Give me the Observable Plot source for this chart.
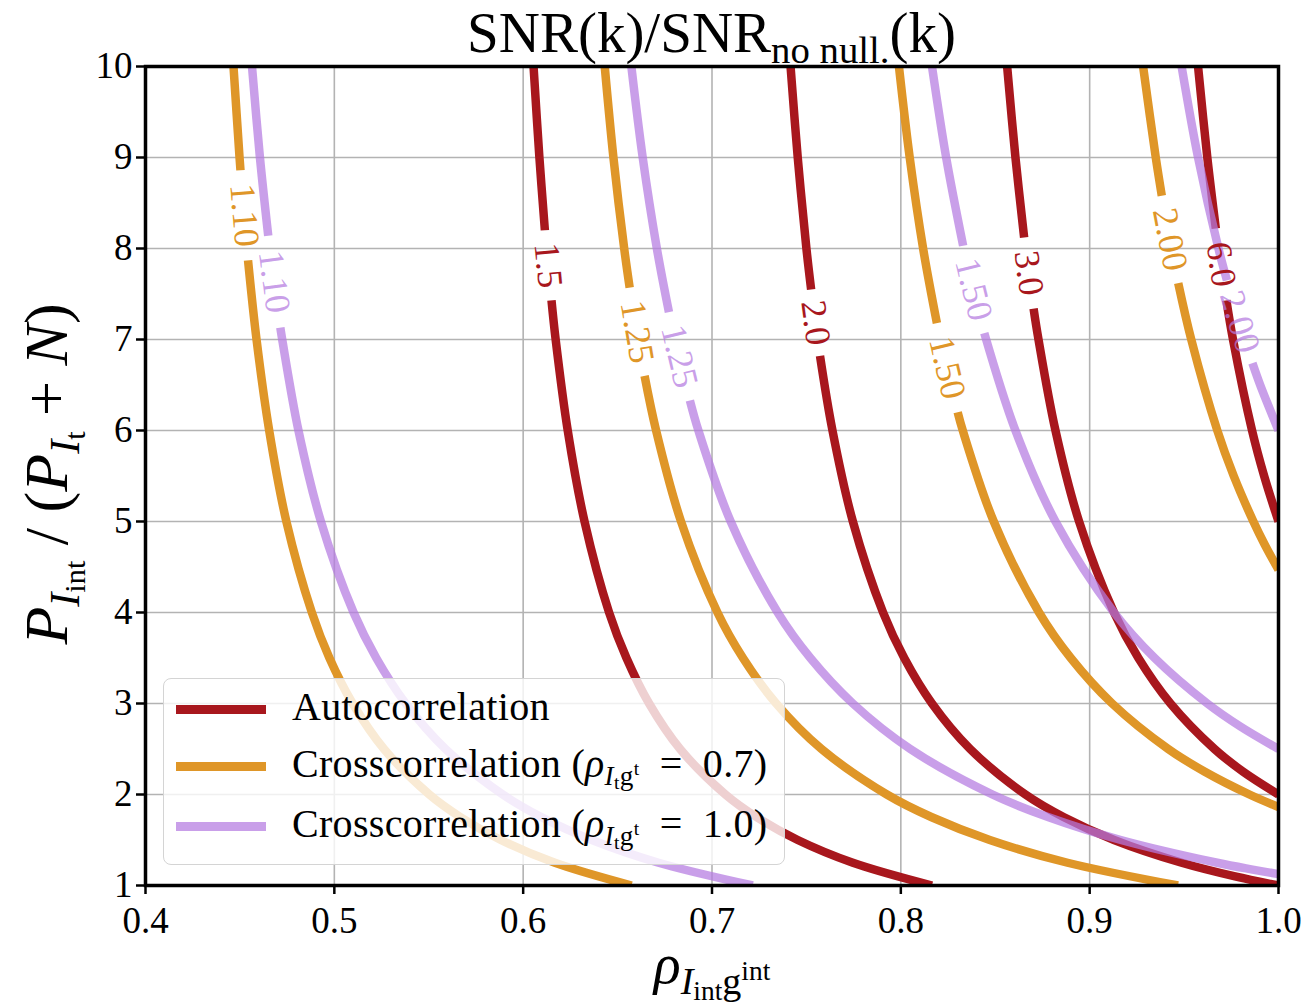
<!DOCTYPE html>
<html><head><meta charset="utf-8">
<script src="https://cdn.jsdelivr.net/npm/d3@7"></script>
<script src="https://cdn.jsdelivr.net/npm/@observablehq/plot@0.6"></script>
<style>
body{margin:0;background:#fff;}
#wrap{position:relative;width:1306px;height:1004px;font-family:"Liberation Serif",serif;color:#000;}
#wrap svg text{font-family:"Liberation Serif",serif;}
.ov{position:absolute;white-space:nowrap;line-height:1;}
.sub{font-size:0.68em;position:relative;top:0.28em;}
.sub2{font-size:0.72em;position:relative;top:0.22em;}
.sup{font-size:0.72em;position:relative;top:-0.5em;}
#legend{position:absolute;left:163px;top:678px;width:622px;height:187px;border:1.5px solid #d4d4d4;border-radius:8px;background:rgba(255,255,255,0.8);box-sizing:border-box;}
.row{position:absolute;left:0;width:100%;height:50px;}
.sw{position:absolute;left:12px;width:90px;height:9px;top:22px;}
.lt{position:absolute;left:128px;top:2px;font-size:40px;white-space:nowrap;line-height:1.1;letter-spacing:0.3px;}
.sp{display:inline-block;width:0.25em;}
</style></head><body><div id="wrap"></div>
<script>
// axis ticks
const xTicks = [0.4, 0.5, 0.6, 0.7, 0.8, 0.9, 1.0];
const yTicks = [1, 2, 3, 4, 5, 6, 7, 8, 9, 10];

// Autocorrelation contours: [rho, P_int/(P_t+N)]
const auto15 = [[0.6055,10],[0.6086,9],[0.6115,8.2],[0.6150,7.43],[0.6172,7],[0.6236,6],[0.6325,5],[0.6455,4],[0.6547,3.5],[0.6667,3],[0.6831,2.5],[0.7071,2],[0.7237,1.75],[0.7454,1.5],[0.7746,1.25],[0.8165,1]];
const auto20 = [[0.7416,10],[0.7454,9],[0.7500,8],[0.7525,7.55],[0.7572,6.82],[0.7638,6],[0.7746,5],[0.7906,4],[0.8018,3.5],[0.8165,3],[0.8367,2.5],[0.8660,2],[0.8864,1.75],[0.9129,1.5],[0.9487,1.25],[0.9770,1.1],[1.0,1]];
const auto30 = [[0.8563,10],[0.8607,9],[0.8653,8.12],[0.8703,7.34],[0.8729,7],[0.8819,6],[0.8944,5],[0.9129,4],[0.9258,3.5],[0.9428,3],[0.9661,2.5],[0.9813,2.25],[1.0,2]];
const auto60 = [[0.9574,10],[0.9623,9],[0.9668,8.22],[0.9724,7.43],[0.9759,7],[0.9860,6],[0.9924,5.5],[1.0,5]];

// Crosscorrelation, rho_tg = 0.7
const c07_110 = [[0.4466,10],[0.4498,9],[0.4503,8.86],[0.4543,7.87],[0.4588,7],[0.4655,6],[0.4746,5],[0.4881,4],[0.4974,3.5],[0.5097,3],[0.5263,2.5],[0.5503,2],[0.5669,1.75],[0.5882,1.5],[0.6168,1.25],[0.6574,1]];
const c07_125 = [[0.6432,10],[0.6478,9],[0.6535,8],[0.6564,7.57],[0.6643,6.6],[0.6704,6],[0.6836,5],[0.7029,4],[0.7164,3.5],[0.7340,3],[0.7580,2.5],[0.7926,2],[0.8164,1.75],[0.8471,1.5],[0.8883,1.25],[0.9468,1]];
const c07_150 = [[0.7990,10],[0.8047,9],[0.8118,8],[0.8191,7.18],[0.8301,6.2],[0.8328,6],[0.8492,5],[0.8732,4],[0.8900,3.5],[0.9119,3],[0.9416,2.5],[0.9610,2.25],[0.9846,2],[1.0,1.8625]];
const c07_200 = [[0.9283,10],[0.9350,9],[0.9382,8.58],[0.9469,7.62],[0.9538,7],[0.9676,6],[0.9763,5.5],[0.9867,5],[0.9926,4.75],[1.0,4.47]];

// Crosscorrelation, rho_tg = 1.0
const c10_110 = [[0.4564,10],[0.4606,9],[0.4650,8.14],[0.4714,7.13],[0.4724,7],[0.4810,6],[0.4929,5],[0.5102,4],[0.5222,3.5],[0.5378,3],[0.5589,2.5],[0.5892,2],[0.6098,1.75],[0.6364,1.5],[0.6717,1.25],[0.7216,1]];
const c10_125 = [[0.6573,10],[0.6633,9],[0.6708,8],[0.6772,7.3],[0.6883,6.33],[0.6928,6],[0.7099,5],[0.7348,4],[0.7521,3.5],[0.7746,3],[0.8050,2.5],[0.8485,2],[0.8783,1.75],[0.9165,1.5],[0.9675,1.25],[0.9863,1.175],[1.0,1.125]];
const c10_150 = [[0.8165,10],[0.8240,9],[0.8330,8.03],[0.8442,7.07],[0.8607,6],[0.8819,5],[0.9129,4],[0.9344,3.5],[0.9623,3],[0.9796,2.75],[1.0,2.5]];
const c10_200 = [[0.9487,10],[0.9574,9],[0.9682,8],[0.9727,7.65],[0.9862,6.74],[0.9903,6.5],[1.0,6]];

// inline contour labels: text and the y-range of the line break around them
const autoLabels = ["1.5", "2.0", "3.0", "6.0"];
const autoGaps = [[8.2,7.43],[7.55,6.82],[8.12,7.34],[8.22,7.43]];
const c07Labels = ["1.10", "1.25", "1.50", "2.00"];
const c07Gaps = [[8.86,7.87],[7.57,6.6],[7.18,6.2],[8.58,7.62]];
const c10Labels = ["1.10", "1.25", "1.50", "2.00"];
const c10Gaps = [[8.14,7.13],[7.3,6.33],[8.03,7.07],[7.65,6.74]];

const legendNames = ["Autocorrelation", "Crosscorrelation", "Crosscorrelation"];
const legendRho = [null, "0.7", "1.0"];

const RED = "#a8171d", ORANGE = "#df9628", PURPLE = "#b47ae0";
const W = 1306, H = 1004, mL = 145, mR = 28, mT = 66, mB = 119;
const pxX = (W - mL - mR) / (1.0 - 0.4), pxY = (H - mT - mB) / (10 - 1);

function build(curves, gaps, labels, group) {
  const lines = [], texts = [];
  curves.forEach((pts, i) => {
    const [gt, gb] = gaps[i];
    let a = null, b = null;
    for (const p of pts) {
      if (p[1] >= gt) lines.push({x: p[0], y: p[1], seg: group + i + "a"});
      else if (p[1] <= gb) lines.push({x: p[0], y: p[1], seg: group + i + "b"});
      if (p[1] === gt) a = p;
      if (p[1] === gb) b = p;
    }
    const ang = Math.atan2((a[1] - b[1]) * pxY, (b[0] - a[0]) * pxX) * 180 / Math.PI;
    texts.push({x: (a[0] + b[0]) / 2, y: (a[1] + b[1]) / 2, text: labels[i], rot: ang});
  });
  return {lines, texts};
}
const A = build([auto15, auto20, auto30, auto60], autoGaps, autoLabels, "auto");
const O = build([c07_110, c07_125, c07_150, c07_200], c07Gaps, c07Labels, "c07");
const P = build([c10_110, c10_125, c10_150, c10_200], c10Gaps, c10Labels, "c10");

const FF = "Liberation Serif";
const lineOpts = (stroke, op) => ({x: "x", y: "y", z: "seg", stroke, strokeWidth: 8.5, strokeOpacity: op, curve: "catmull-rom", clip: true, strokeLinecap: "butt"});
const textOpts = (fill, op) => ({x: "x", y: "y", text: "text", rotate: "rot", fill, fillOpacity: op, fontSize: 36, fontFamily: FF, textAnchor: "middle", lineAnchor: "middle"});

const plot = Plot.plot({
  width: W, height: H,
  marginLeft: mL, marginRight: mR, marginTop: mT, marginBottom: mB,
  style: {fontFamily: FF, fontSize: "37px", color: "#000", background: "#fff"},
  x: {domain: [0.4, 1.0]},
  y: {domain: [1, 10]},
  marks: [
    Plot.gridX({ticks: xTicks, stroke: "#b3b3b3", strokeOpacity: 1, strokeWidth: 1.6}),
    Plot.gridY({ticks: yTicks, stroke: "#b3b3b3", strokeOpacity: 1, strokeWidth: 1.6}),
    Plot.line(A.lines, lineOpts(RED, 1)),
    Plot.line(O.lines, lineOpts(ORANGE, 1)),
    Plot.line(P.lines, lineOpts(PURPLE, 0.72)),
    Plot.text(A.texts, textOpts(RED, 1)),
    Plot.text(O.texts, textOpts(ORANGE, 1)),
    Plot.text(P.texts, textOpts(PURPLE, 0.72)),
    Plot.axisX({ticks: xTicks, tickFormat: d => d.toFixed(1), tickSize: 9, tickPadding: 12, strokeWidth: 2.5, fontSize: 37, fontFamily: FF, label: null}),
    Plot.axisY({ticks: yTicks, tickFormat: d => String(d), tickSize: 9, tickPadding: 4, strokeWidth: 2.5, fontSize: 37, fontFamily: FF, label: null}),
    Plot.frame({stroke: "#000", strokeWidth: 3.5})
  ]
});
const wrap = document.getElementById("wrap");
wrap.appendChild(plot);

function ov(html, css) {
  const d = document.createElement("div");
  d.className = "ov";
  d.innerHTML = html;
  Object.assign(d.style, css);
  wrap.appendChild(d);
  return d;
}
// title
ov('SNR(k)/SNR<span class="sub">no null.</span>(k)', {left: mL + "px", width: (W - mL - mR) + "px", textAlign: "center", top: "4px", fontSize: "57px"});
// y label
ov('<i>P</i><span class="sub"><i>I</i><span class="sub2">int</span></span><span class="sp"></span>/<span class="sp"></span>(<i>P</i><span class="sub"><i>I</i><span class="sub2">t</span></span> + <i>N</i>)',
   {left: "46px", top: "474px", fontSize: "62px", transform: "translate(-50%,-50%) rotate(-90deg)"});
// x label
ov('<i>ρ</i><span class="sub"><i>I</i><span class="sub2">int</span>g<span class="sup">int</span></span>',
   {left: "712px", top: "964px", fontSize: "56px", transform: "translate(-50%,-50%)"});

// legend
const lg = document.createElement("div");
lg.id = "legend";
const cols = [RED, ORANGE, PURPLE];
legendNames.forEach((name, i) => {
  const r = document.createElement("div");
  r.className = "row";
  r.style.top = [4, 61, 121][i] + "px";
  let label = name;
  if (legendRho[i]) label = name + ' (<i>ρ</i><span class="sub"><i>I</i><span class="sub2">t</span>g<span class="sup">t</span></span><span class="sp"></span> = <span class="sp"></span>' + legendRho[i] + ')';
  r.innerHTML = '<div class="sw" style="background:' + cols[i] + ';opacity:' + (i === 2 ? 0.72 : 1) + '"></div><div class="lt">' + label + '</div>';
  lg.appendChild(r);
});
wrap.appendChild(lg);
</script></body></html>
